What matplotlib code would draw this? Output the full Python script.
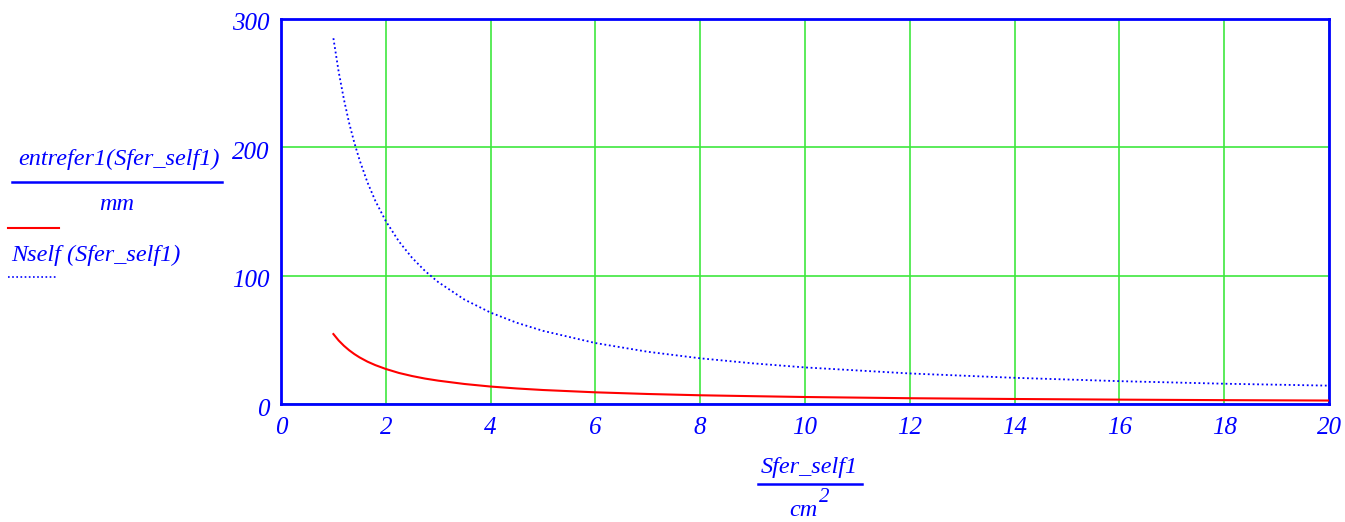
import matplotlib
matplotlib.use("Agg")
import matplotlib.pyplot as plt
import matplotlib.transforms as mtransforms
from matplotlib.lines import Line2D

# Data
x_vals = [1, 1.1, 1.2, 1.3, 1.4, 1.5, 1.65, 1.8, 2, 2.25, 2.5, 2.75, 3, 3.5, 4, 4.5, 5,
          6, 7, 8, 9, 10, 12, 14, 16, 18, 20]
nself = [285, 259, 237.5, 219, 203.5, 190, 172.7, 158.3, 142.5, 126.7, 114, 103.6, 95,
         81.4, 71.2, 63.3, 57, 47.5, 40.7, 35.6, 31.7, 28.5, 23.8, 20.4, 17.8, 15.8, 14.3]
entrefer = [54.5, 49.5, 45.4, 41.9, 38.9, 36.3, 33.0, 30.3, 27.3, 24.2, 21.8, 19.8, 18.2,
            15.6, 13.6, 12.1, 10.9, 9.1, 7.8, 6.8, 6.1, 5.45, 4.5, 3.9, 3.4, 3.0, 2.7]
x_ticks = [0, 2, 4, 6, 8, 10, 12, 14, 16, 18, 20]
y_ticks = [0, 100, 200, 300]

W, H = 1345, 522
BLUE = "#0000ff"
GREEN = "#3ee83e"
FONT = "Liberation Serif"
LSIZE = 17.5

fig = plt.figure(figsize=(W / 100, H / 100), dpi=100)
ax = fig.add_axes([281 / W, 1 - 404 / H, (1329 - 281) / W, (404 - 19) / H])

ax.plot(x_vals, entrefer, color="red", lw=1.5, zorder=3)
ax.plot(x_vals, nself, color=BLUE, lw=1.3, ls=(0, (1, 1.5)), zorder=3)

ax.set_xlim(0, 20)
ax.set_ylim(0, 300)
ax.set_xticks(x_ticks)
ax.set_yticks(y_ticks)
ax.grid(True, color=GREEN, lw=1.2)
ax.set_axisbelow(True)
for s in ax.spines.values():
    s.set_color(BLUE)
    s.set_linewidth(2.0)
ax.tick_params(length=0, colors=BLUE, labelsize=18)
ax.tick_params(axis="y", pad=8)
ax.tick_params(axis="x", pad=9)
for lab in ax.get_xticklabels() + ax.get_yticklabels():
    lab.set_fontfamily(FONT)
    lab.set_fontstyle("italic")
    lab.set_color(BLUE)
shift = mtransforms.ScaledTranslation(0, -3 / 100, fig.dpi_scale_trans)
for lab in ax.get_yticklabels():
    lab.set_transform(lab.get_transform() + shift)

def ftext(px, py, s, ha="center", size=LSIZE):
    fig.text(px / W, 1 - py / H, s, ha=ha, va="center", color=BLUE,
             fontfamily=FONT, fontstyle="italic", fontsize=size)

def fline(x0, x1, py, color, lw, ls="-"):
    fig.add_artist(Line2D([x0 / W, x1 / W], [1 - py / H, 1 - py / H],
                          color=color, lw=lw, ls=ls, transform=fig.transFigure))

# Y-axis label block (Mathcad style)
ftext(119, 159, "entrefer1(Sfer_self1)")
fline(12, 222, 182, BLUE, 1.8)
ftext(117, 204, "mm")
fline(8, 59, 228, "red", 1.5)
ftext(11, 255, "Nself (Sfer_self1)", ha="left")
fline(8, 56, 277, BLUE, 1.2, ls=(0, (1, 1.5)))

# X-axis label block
ftext(809, 467, "Sfer_self1")
fline(758, 862, 484, BLUE, 1.8)
ftext(803, 510, "cm")
ftext(824, 498, "2", size=15)

fig.savefig("out.png", dpi=100)
